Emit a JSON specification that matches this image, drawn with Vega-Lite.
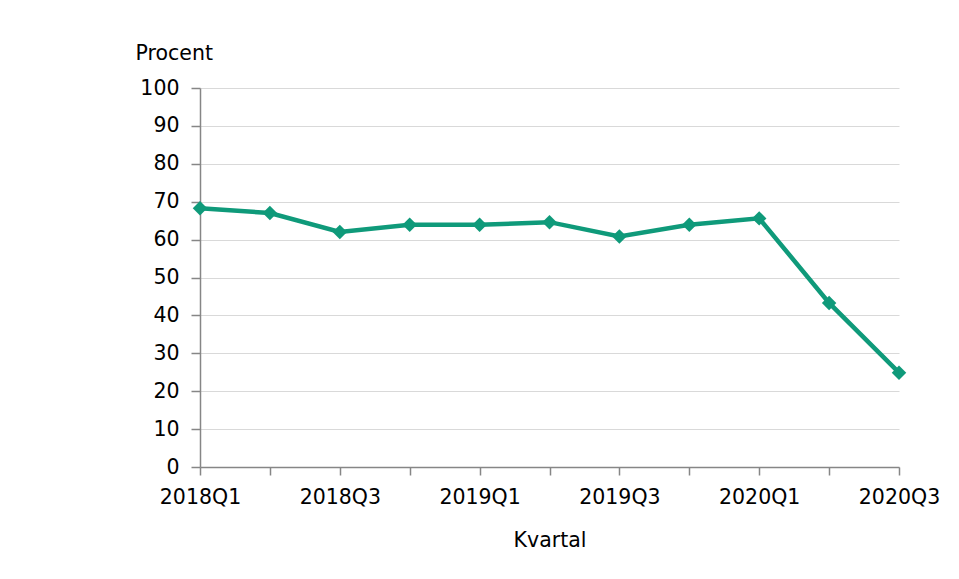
{
  "$schema": "https://vega.github.io/schema/vega-lite/v6.json",
  "autosize": "none",
  "width": 699,
  "height": 379,
  "padding": {"left": 200, "top": 88, "right": 60, "bottom": 112},
  "background": "white",
  "config": {
    "view": {"stroke": null},
    "font": "DejaVu Sans",
    "axis": {
      "labelFont": "DejaVu Sans",
      "titleFont": "DejaVu Sans",
      "labelFontSize": 20.5,
      "titleFontSize": 20.5,
      "labelColor": "#000000",
      "titleColor": "#000000",
      "titleFontWeight": "normal",
      "domainColor": "#868686",
      "tickColor": "#868686",
      "gridColor": "#d9d9d9",
      "domainWidth": 1.5,
      "tickWidth": 1.5
    }
  },
  "data": {
    "values": [
      {"kvartal": "2018Q1", "procent": 68.3},
      {"kvartal": "2018Q2", "procent": 67.0},
      {"kvartal": "2018Q3", "procent": 62.0},
      {"kvartal": "2018Q4", "procent": 63.9},
      {"kvartal": "2019Q1", "procent": 63.9},
      {"kvartal": "2019Q2", "procent": 64.6},
      {"kvartal": "2019Q3", "procent": 60.8},
      {"kvartal": "2019Q4", "procent": 63.9},
      {"kvartal": "2020Q1", "procent": 65.6},
      {"kvartal": "2020Q2", "procent": 43.3},
      {"kvartal": "2020Q3", "procent": 24.9}
    ]
  },
  "mark": {
    "type": "line",
    "color": "#0f9a7a",
    "strokeWidth": 4.5,
    "point": {"shape": "diamond", "size": 210, "filled": true, "color": "#0f9a7a", "opacity": 1}
  },
  "encoding": {
    "x": {
      "field": "kvartal",
      "type": "ordinal",
      "sort": null,
      "scale": {"type": "point", "padding": 0},
      "axis": {
        "title": "Kvartal",
        "labelAngle": 0,
        "tickSize": 8,
        "labelPadding": 12,
        "labelExpr": "indexof(datum.label, 'Q2') >= 0 || indexof(datum.label, 'Q4') >= 0 ? '' : datum.label",
        "titleY": 79,
        "titleBaseline": "alphabetic",
        "grid": false
      }
    },
    "y": {
      "field": "procent",
      "type": "quantitative",
      "scale": {"domain": [0, 100], "nice": false},
      "axis": {
        "title": "Procent",
        "titleAngle": 0,
        "titleAlign": "left",
        "titleBaseline": "alphabetic",
        "titleX": -65,
        "titleY": -29,
        "values": [0, 10, 20, 30, 40, 50, 60, 70, 80, 90, 100],
        "tickSize": 9,
        "labelPadding": 12,
        "grid": true
      }
    }
  }
}
